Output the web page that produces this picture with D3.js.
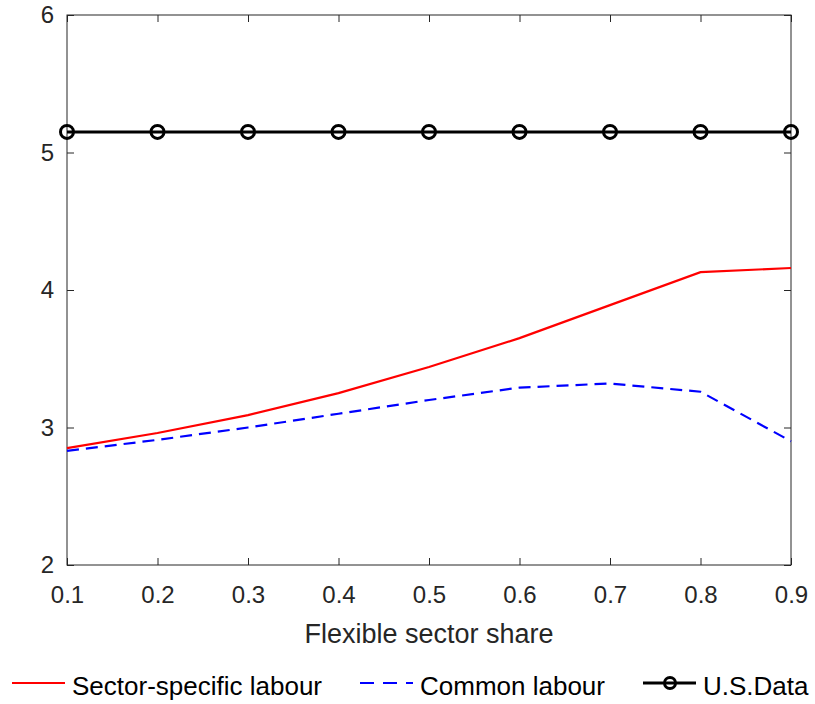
<!DOCTYPE html>
<html>
<head>
<meta charset="utf-8">
<script src="https://cdn.jsdelivr.net/npm/d3@7"></script>
<style>
  body { margin: 0; background: #fff; }
  text { font-family: "Liberation Sans", Arial, Helvetica, sans-serif; }
</style>
</head>
<body>
<div id="main"></div>
<script>
// values
var shares = [0.1, 0.2, 0.3, 0.4, 0.5, 0.6, 0.7, 0.8, 0.9];
var sectorSpecific = [2.85, 2.96, 3.09, 3.25, 3.44, 3.65, 3.89, 4.13, 4.16];
var commonLabour = [2.83, 2.91, 3.00, 3.10, 3.20, 3.29, 3.32, 3.26, 2.90];
var usData = [5.15, 5.15, 5.15, 5.15, 5.15, 5.15, 5.15, 5.15, 5.15];
var xTicks = [0.1, 0.2, 0.3, 0.4, 0.5, 0.6, 0.7, 0.8, 0.9];
var yTicks = [2, 3, 4, 5, 6];

var ctx = {
    w: 815,
    h: 704,
    left: 67,
    right: 791,
    top: 15,
    bottom: 565,
    axisColor: "#262626",
};

var svg = d3.select("#main").append("svg")
    .attr("width", ctx.w)
    .attr("height", ctx.h);

var x = d3.scaleLinear().domain([0.1, 0.9]).range([ctx.left, ctx.right]);
var y = d3.scaleLinear().domain([2, 6]).range([ctx.bottom, ctx.top]);

// box + inward ticks (matlab style)
var axes = svg.append("g").attr("id", "axes");
axes.append("rect")
    .attr("x", ctx.left).attr("y", ctx.top)
    .attr("width", ctx.right - ctx.left).attr("height", ctx.bottom - ctx.top)
    .attr("fill", "none").attr("stroke", ctx.axisColor).attr("stroke-width", 1);

var bottomAxis = d3.axisBottom(x).tickValues(xTicks).tickSize(-7).tickPadding(21)
    .tickFormat(d3.format(".1f"));
var topAxis = d3.axisTop(x).tickValues(xTicks).tickSize(-7).tickFormat("");
var leftAxis = d3.axisLeft(y).tickValues(yTicks).tickSize(-7).tickPadding(13)
    .tickFormat(d3.format("d"));
var rightAxis = d3.axisRight(y).tickValues(yTicks).tickSize(-7).tickFormat("");

function styleAxis(g) {
    g.select(".domain").remove();
    g.selectAll(".tick line").attr("stroke", ctx.axisColor);
    g.selectAll(".tick text")
        .attr("fill", ctx.axisColor)
        .style("font-size", "24px");
}

axes.append("g").attr("transform", `translate(0,${ctx.bottom})`).call(bottomAxis).call(styleAxis);
axes.append("g").attr("transform", `translate(0,${ctx.top})`).call(topAxis).call(styleAxis);
axes.append("g").attr("transform", `translate(${ctx.left},0)`).call(leftAxis).call(styleAxis);
axes.append("g").attr("transform", `translate(${ctx.right},0)`).call(rightAxis).call(styleAxis);

svg.append("text")
    .attr("x", (ctx.left + ctx.right) / 2)
    .attr("y", 643)
    .attr("text-anchor", "middle")
    .attr("fill", ctx.axisColor)
    .style("font-size", "27px")
    .text("Flexible sector share");

var line = function (vals) {
    return d3.line()
        .x((d, i) => x(shares[i]))
        .y((d) => y(d))(vals);
};

var series = [
    { name: "Sector-specific labour", vals: sectorSpecific, color: "#ff0000", width: 2.2, dash: null, marker: false },
    { name: "Common labour", vals: commonLabour, color: "#0000ff", width: 2.2, dash: "12,7", marker: false },
    { name: "U.S.Data", vals: usData, color: "#000000", width: 3, dash: null, marker: true },
];

var lines = svg.append("g").attr("id", "lines");
series.forEach(function (s) {
    lines.append("path")
        .attr("d", line(s.vals))
        .attr("fill", "none")
        .attr("stroke", s.color)
        .attr("stroke-width", s.width)
        .attr("stroke-dasharray", s.dash);
    if (s.marker) {
        lines.selectAll(null)
            .data(s.vals)
            .enter()
            .append("circle")
            .attr("cx", (d, i) => x(shares[i]))
            .attr("cy", (d) => y(d))
            .attr("r", 6.5)
            .attr("fill", "none")
            .attr("stroke", s.color)
            .attr("stroke-width", 3);
    }
});

// legend below the axis label
var legendPos = [12, 360, 643];
var legend = svg.append("g").attr("id", "legend");
series.forEach(function (s, i) {
    var g = legend.append("g").attr("transform", `translate(${legendPos[i]},683)`);
    g.append("line")
        .attr("x1", 0).attr("x2", 53)
        .attr("y1", 0).attr("y2", 0)
        .attr("stroke", s.color)
        .attr("stroke-width", s.width)
        .attr("stroke-dasharray", s.dash ? "14,9" : null);
    if (s.marker) {
        g.append("circle").attr("cx", 27).attr("cy", 0).attr("r", 5.5)
            .attr("fill", "none").attr("stroke", s.color).attr("stroke-width", 3);
    }
    g.append("text")
        .attr("x", 60)
        .attr("y", 12)
        .attr("fill", "#000")
        .style("font-size", "26px")
        .text(s.name);
});
</script>
</body>
</html>
